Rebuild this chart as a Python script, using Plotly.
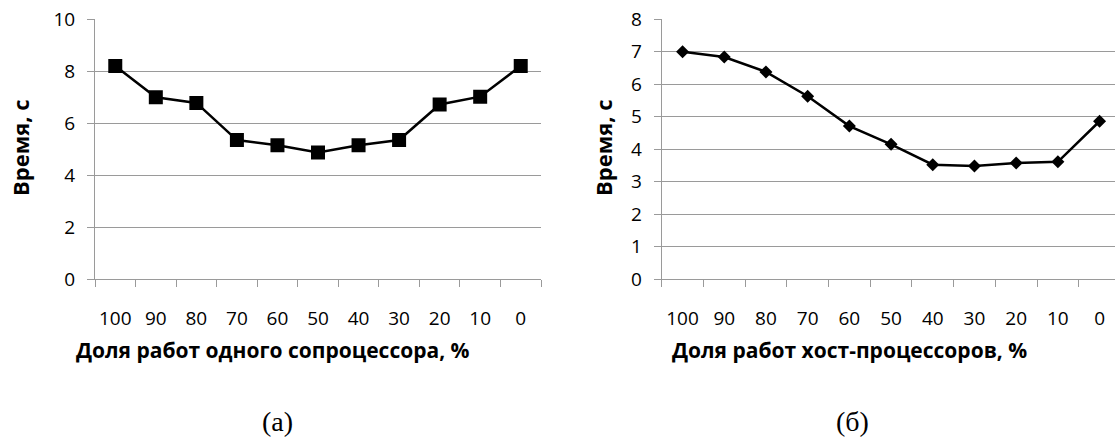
import plotly.graph_objects as go

categories = ["100", "90", "80", "70", "60", "50", "40", "30", "20", "10", "0"]
time_a = [8.2, 7.0, 6.78, 5.35, 5.15, 4.87, 5.15, 5.35, 6.72, 7.02, 8.2]
time_b = [7.0, 6.84, 6.38, 5.63, 4.71, 4.15, 3.52, 3.48, 3.57, 3.61, 4.86]
y_title = "Время, с"
x_title_a = "Доля работ одного сопроцессора, %"
x_title_b = "Доля работ хост-процессоров, %"
caption_a = "(а)"
caption_b = "(б)"

W, H = 1115, 438
GRID = "#9a9a9a"
FONT = "Open Sans"

fig = go.Figure()
fig.add_trace(go.Scatter(
    x=categories, y=time_a, mode="lines+markers", xaxis="x", yaxis="y",
    line=dict(color="black", width=2.5),
    marker=dict(symbol="square", size=14, color="black"),
    showlegend=False))
fig.add_trace(go.Scatter(
    x=categories, y=time_b, mode="lines+markers", xaxis="x2", yaxis="y2",
    line=dict(color="black", width=2.5),
    marker=dict(symbol="diamond", size=10, color="black"),
    showlegend=False))

def px_x(p):
    return p / W

def px_y(p):
    return 1 - p / H

ydom = [px_y(279), px_y(19.3)]

xcommon = dict(type="category", tickson="boundaries", ticks="outside", ticklen=7,
               tickcolor=GRID, showline=True, linecolor=GRID, linewidth=1,
               showgrid=False, zeroline=False, ticklabelstandoff=22,
               tickangle=0, automargin=False,
               tickfont=dict(family=FONT, size=19, color="black"))
ycommon = dict(ticks="outside", ticklen=7, tickcolor=GRID, showline=True,
               linecolor=GRID, linewidth=1, showgrid=True, gridcolor=GRID,
               gridwidth=1, zeroline=False, ticklabelstandoff=8, automargin=False,
               tickfont=dict(family=FONT, size=19, color="black"))

fig.update_layout(
    width=W, height=H, margin=dict(l=0, r=0, t=0, b=0),
    paper_bgcolor="white", plot_bgcolor="white",
    xaxis=dict(domain=[px_x(95), px_x(541)], range=[-0.5, 10.5], anchor="y", **xcommon),
    yaxis=dict(domain=ydom, range=[0, 10], dtick=2, anchor="x", **ycommon),
    xaxis2=dict(domain=[px_x(661.7), 1.0], range=[-0.5, 10.37], anchor="y2", **xcommon),
    yaxis2=dict(domain=ydom, range=[0, 8], dtick=1, anchor="x2", **ycommon),
)

bold_x = dict(family=FONT, size=21, color="black", weight="bold")
bold_y = dict(family=FONT, size=22, color="black", weight="bold")
serif = dict(family="Liberation Serif", size=28, color="black")
anns = [
    dict(text=y_title, x=px_x(20), y=px_y(148), textangle=-90, font=bold_y),
    dict(text=y_title, x=px_x(603), y=px_y(148), textangle=-90, font=bold_y),
    dict(text=x_title_a, x=px_x(273), y=px_y(350), font=bold_x),
    dict(text=x_title_b, x=px_x(849), y=px_y(350), font=bold_x),
    dict(text=caption_a, x=px_x(277), y=px_y(421), font=serif),
    dict(text=caption_b, x=px_x(852), y=px_y(421), font=serif),
]
for a in anns:
    fig.add_annotation(xref="paper", yref="paper", showarrow=False,
                       xanchor="center", yanchor="middle", **a)

fig.write_html("out.html", config={"displayModeBar": False},
               post_script="document.body.style.margin='0';document.body.style.overflow='hidden';")
